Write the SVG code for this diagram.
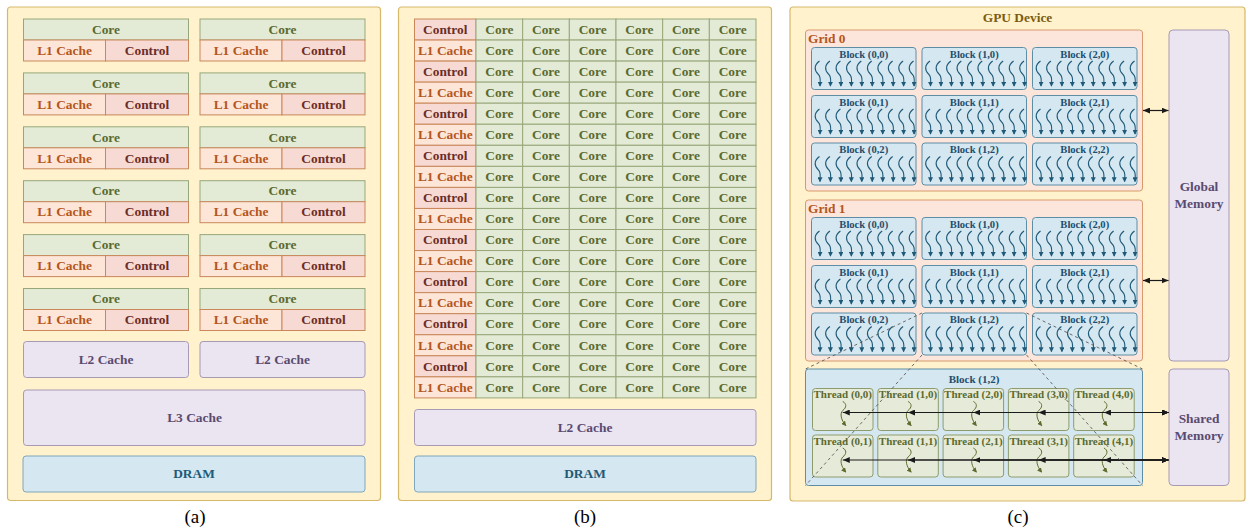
<svg xmlns="http://www.w3.org/2000/svg" xmlns:xlink="http://www.w3.org/1999/xlink" width="1251" height="531" viewBox="0 0 1251 531">
<style>
.panel{fill:#fff2cc;stroke:#d6b86a;stroke-width:1.2}
.core{fill:#e3ebd7;stroke:#98a77a;stroke-width:1}
.l1{fill:#fde5d8;stroke:#c9875a;stroke-width:1}
.ctl{fill:#f7dad4;stroke:#c9875a;stroke-width:1}
.mem{fill:#ebe4f1;stroke:#a69ab4;stroke-width:1}
.dram{fill:#d5e7f0;stroke:#7fa6bc;stroke-width:1}
.grid{fill:#fce5da;stroke:#d89a6c;stroke-width:1}
.blk{fill:#d5e7f0;stroke:#5e8ea6;stroke-width:1}
.thr{fill:#e6ebd9;stroke:#8e9b6c;stroke-width:1}
.t{font-family:"Liberation Serif","Times New Roman",serif;font-weight:bold;font-size:13.4px;text-anchor:middle}
.tc{fill:#5b6a2f}
.tl{fill:#b4561c}
.tt{fill:#6b2d28}
.tm{fill:#5a4a70}
.td{fill:#1f5a78}
.bt{font-family:"Liberation Serif","Times New Roman",serif;font-weight:bold;font-size:10.6px;text-anchor:middle;fill:#1e4e6e}
.tht{font-family:"Liberation Serif","Times New Roman",serif;font-weight:bold;font-size:11px;text-anchor:middle;fill:#5b6a2f}
.cap{font-family:"Liberation Serif","Times New Roman",serif;font-size:19px;text-anchor:middle;fill:#000}
.sqb{fill:none;stroke:#1f5a78;stroke-width:1.1}
.sqt{fill:none;stroke:#5e6b2e;stroke-width:1}
.conn{stroke:#1a1a1a;stroke-width:1.2;fill:none}
.dash{stroke:#5a5a5a;stroke-width:0.9;stroke-dasharray:3 3;fill:none}
</style>
<defs>
<marker id="mb" viewBox="0 0 6 6" refX="5" refY="3" markerWidth="5" markerHeight="5" orient="auto" markerUnits="userSpaceOnUse"><path d="M0,0 L6,3 L0,6 z" fill="#1f5a78"/></marker>
<marker id="mt" viewBox="0 0 6 6" refX="5" refY="3" markerWidth="5" markerHeight="5" orient="auto" markerUnits="userSpaceOnUse"><path d="M0,0 L6,3 L0,6 z" fill="#5e6b2e"/></marker>
<marker id="mk" viewBox="0 0 7 6" refX="7" refY="3" markerWidth="7" markerHeight="6" orient="auto-start-reverse" markerUnits="userSpaceOnUse"><path d="M0,0 L7,3 L0,6 z" fill="#1a1a1a"/></marker>
<path id="sq" d="M1.5,0 C-4,4 -4,9 0,13 C3.5,16 2,20 2,25" class="sqb" marker-end="url(#mb)"/>
<g id="sq10">
<use href="#sq" x="6.5" y="13.5"/><use href="#sq" x="16.95" y="13.5"/><use href="#sq" x="27.4" y="13.5"/><use href="#sq" x="37.85" y="13.5"/><use href="#sq" x="48.3" y="13.5"/><use href="#sq" x="58.75" y="13.5"/><use href="#sq" x="69.2" y="13.5"/><use href="#sq" x="79.65" y="13.5"/><use href="#sq" x="90.1" y="13.5"/><use href="#sq" x="100.55" y="13.5"/>
</g>
<path id="tsq" d="M0,0 C4,2 4,6 0,9 C-3,12 -2,18 3,24" class="sqt" marker-end="url(#mt)"/>
</defs>

<!-- ================= Panel (a) ================= -->
<g id="panel-a">
<rect class="panel" x="7.5" y="7" width="373" height="493.5" rx="3"/>
<g id="a-unit-0L" transform="translate(23.5,19)"><rect class="core" width="165" height="21"/><rect class="l1" y="21" width="82" height="21"/><rect class="ctl" x="82" y="21" width="83" height="21"/><text class="t tc" x="82.5" y="14.8">Core</text><text class="t tl" x="41" y="35.8">L1 Cache</text><text class="t tt" x="123.5" y="35.8">Control</text></g>
<g id="a-unit-0R" transform="translate(200,19)"><rect class="core" width="165" height="21"/><rect class="l1" y="21" width="82" height="21"/><rect class="ctl" x="82" y="21" width="83" height="21"/><text class="t tc" x="82.5" y="14.8">Core</text><text class="t tl" x="41" y="35.8">L1 Cache</text><text class="t tt" x="123.5" y="35.8">Control</text></g>
<g id="a-unit-1L" transform="translate(23.5,72.9)"><rect class="core" width="165" height="21"/><rect class="l1" y="21" width="82" height="21"/><rect class="ctl" x="82" y="21" width="83" height="21"/><text class="t tc" x="82.5" y="14.8">Core</text><text class="t tl" x="41" y="35.8">L1 Cache</text><text class="t tt" x="123.5" y="35.8">Control</text></g>
<g id="a-unit-1R" transform="translate(200,72.9)"><rect class="core" width="165" height="21"/><rect class="l1" y="21" width="82" height="21"/><rect class="ctl" x="82" y="21" width="83" height="21"/><text class="t tc" x="82.5" y="14.8">Core</text><text class="t tl" x="41" y="35.8">L1 Cache</text><text class="t tt" x="123.5" y="35.8">Control</text></g>
<g id="a-unit-2L" transform="translate(23.5,126.8)"><rect class="core" width="165" height="21"/><rect class="l1" y="21" width="82" height="21"/><rect class="ctl" x="82" y="21" width="83" height="21"/><text class="t tc" x="82.5" y="14.8">Core</text><text class="t tl" x="41" y="35.8">L1 Cache</text><text class="t tt" x="123.5" y="35.8">Control</text></g>
<g id="a-unit-2R" transform="translate(200,126.8)"><rect class="core" width="165" height="21"/><rect class="l1" y="21" width="82" height="21"/><rect class="ctl" x="82" y="21" width="83" height="21"/><text class="t tc" x="82.5" y="14.8">Core</text><text class="t tl" x="41" y="35.8">L1 Cache</text><text class="t tt" x="123.5" y="35.8">Control</text></g>
<g id="a-unit-3L" transform="translate(23.5,180.7)"><rect class="core" width="165" height="21"/><rect class="l1" y="21" width="82" height="21"/><rect class="ctl" x="82" y="21" width="83" height="21"/><text class="t tc" x="82.5" y="14.8">Core</text><text class="t tl" x="41" y="35.8">L1 Cache</text><text class="t tt" x="123.5" y="35.8">Control</text></g>
<g id="a-unit-3R" transform="translate(200,180.7)"><rect class="core" width="165" height="21"/><rect class="l1" y="21" width="82" height="21"/><rect class="ctl" x="82" y="21" width="83" height="21"/><text class="t tc" x="82.5" y="14.8">Core</text><text class="t tl" x="41" y="35.8">L1 Cache</text><text class="t tt" x="123.5" y="35.8">Control</text></g>
<g id="a-unit-4L" transform="translate(23.5,234.6)"><rect class="core" width="165" height="21"/><rect class="l1" y="21" width="82" height="21"/><rect class="ctl" x="82" y="21" width="83" height="21"/><text class="t tc" x="82.5" y="14.8">Core</text><text class="t tl" x="41" y="35.8">L1 Cache</text><text class="t tt" x="123.5" y="35.8">Control</text></g>
<g id="a-unit-4R" transform="translate(200,234.6)"><rect class="core" width="165" height="21"/><rect class="l1" y="21" width="82" height="21"/><rect class="ctl" x="82" y="21" width="83" height="21"/><text class="t tc" x="82.5" y="14.8">Core</text><text class="t tl" x="41" y="35.8">L1 Cache</text><text class="t tt" x="123.5" y="35.8">Control</text></g>
<g id="a-unit-5L" transform="translate(23.5,288.5)"><rect class="core" width="165" height="21"/><rect class="l1" y="21" width="82" height="21"/><rect class="ctl" x="82" y="21" width="83" height="21"/><text class="t tc" x="82.5" y="14.8">Core</text><text class="t tl" x="41" y="35.8">L1 Cache</text><text class="t tt" x="123.5" y="35.8">Control</text></g>
<g id="a-unit-5R" transform="translate(200,288.5)"><rect class="core" width="165" height="21"/><rect class="l1" y="21" width="82" height="21"/><rect class="ctl" x="82" y="21" width="83" height="21"/><text class="t tc" x="82.5" y="14.8">Core</text><text class="t tl" x="41" y="35.8">L1 Cache</text><text class="t tt" x="123.5" y="35.8">Control</text></g>
<g id="a-l2-L"><rect class="mem" x="23.5" y="341.5" width="165" height="36" rx="3"/><text class="t tm" x="106" y="364">L2 Cache</text></g>
<g id="a-l2-R"><rect class="mem" x="200" y="341.5" width="165" height="36" rx="3"/><text class="t tm" x="282.5" y="364">L2 Cache</text></g>
<g id="a-l3"><rect class="mem" x="23.5" y="390" width="341.5" height="55.5" rx="3"/><text class="t tm" x="194.5" y="422.3">L3 Cache</text></g>
<g id="a-dram"><rect class="dram" x="23" y="456" width="342" height="36" rx="3"/><text class="t td" x="194" y="478.3">DRAM</text></g>
<text class="cap" x="195" y="523">(a)</text>
</g>

<!-- ================= Panel (b) ================= -->
<g id="panel-b">
<rect class="panel" x="398.5" y="7" width="373" height="493.5" rx="3"/>
<g id="b-row-0" transform="translate(0,19)"><rect class="ctl" x="414.5" width="61.5" height="21.05"/><rect class="core" x="476" width="46.67" height="21.05"/><rect class="core" x="522.67" width="46.67" height="21.05"/><rect class="core" x="569.33" width="46.67" height="21.05"/><rect class="core" x="616" width="46.67" height="21.05"/><rect class="core" x="662.67" width="46.67" height="21.05"/><rect class="core" x="709.33" width="46.67" height="21.05"/><text class="t tt" x="445.25" y="14.8">Control</text><text class="t tc" x="499.33" y="14.8">Core</text><text class="t tc" x="546" y="14.8">Core</text><text class="t tc" x="592.67" y="14.8">Core</text><text class="t tc" x="639.33" y="14.8">Core</text><text class="t tc" x="686" y="14.8">Core</text><text class="t tc" x="732.67" y="14.8">Core</text></g>
<g id="b-row-1" transform="translate(0,40.05)"><rect class="l1" x="414.5" width="61.5" height="21.05"/><rect class="core" x="476" width="46.67" height="21.05"/><rect class="core" x="522.67" width="46.67" height="21.05"/><rect class="core" x="569.33" width="46.67" height="21.05"/><rect class="core" x="616" width="46.67" height="21.05"/><rect class="core" x="662.67" width="46.67" height="21.05"/><rect class="core" x="709.33" width="46.67" height="21.05"/><text class="t tl" x="445.25" y="14.8">L1 Cache</text><text class="t tc" x="499.33" y="14.8">Core</text><text class="t tc" x="546" y="14.8">Core</text><text class="t tc" x="592.67" y="14.8">Core</text><text class="t tc" x="639.33" y="14.8">Core</text><text class="t tc" x="686" y="14.8">Core</text><text class="t tc" x="732.67" y="14.8">Core</text></g>
<g id="b-row-2" transform="translate(0,61.1)"><rect class="ctl" x="414.5" width="61.5" height="21.05"/><rect class="core" x="476" width="46.67" height="21.05"/><rect class="core" x="522.67" width="46.67" height="21.05"/><rect class="core" x="569.33" width="46.67" height="21.05"/><rect class="core" x="616" width="46.67" height="21.05"/><rect class="core" x="662.67" width="46.67" height="21.05"/><rect class="core" x="709.33" width="46.67" height="21.05"/><text class="t tt" x="445.25" y="14.8">Control</text><text class="t tc" x="499.33" y="14.8">Core</text><text class="t tc" x="546" y="14.8">Core</text><text class="t tc" x="592.67" y="14.8">Core</text><text class="t tc" x="639.33" y="14.8">Core</text><text class="t tc" x="686" y="14.8">Core</text><text class="t tc" x="732.67" y="14.8">Core</text></g>
<g id="b-row-3" transform="translate(0,82.15)"><rect class="l1" x="414.5" width="61.5" height="21.05"/><rect class="core" x="476" width="46.67" height="21.05"/><rect class="core" x="522.67" width="46.67" height="21.05"/><rect class="core" x="569.33" width="46.67" height="21.05"/><rect class="core" x="616" width="46.67" height="21.05"/><rect class="core" x="662.67" width="46.67" height="21.05"/><rect class="core" x="709.33" width="46.67" height="21.05"/><text class="t tl" x="445.25" y="14.8">L1 Cache</text><text class="t tc" x="499.33" y="14.8">Core</text><text class="t tc" x="546" y="14.8">Core</text><text class="t tc" x="592.67" y="14.8">Core</text><text class="t tc" x="639.33" y="14.8">Core</text><text class="t tc" x="686" y="14.8">Core</text><text class="t tc" x="732.67" y="14.8">Core</text></g>
<g id="b-row-4" transform="translate(0,103.2)"><rect class="ctl" x="414.5" width="61.5" height="21.05"/><rect class="core" x="476" width="46.67" height="21.05"/><rect class="core" x="522.67" width="46.67" height="21.05"/><rect class="core" x="569.33" width="46.67" height="21.05"/><rect class="core" x="616" width="46.67" height="21.05"/><rect class="core" x="662.67" width="46.67" height="21.05"/><rect class="core" x="709.33" width="46.67" height="21.05"/><text class="t tt" x="445.25" y="14.8">Control</text><text class="t tc" x="499.33" y="14.8">Core</text><text class="t tc" x="546" y="14.8">Core</text><text class="t tc" x="592.67" y="14.8">Core</text><text class="t tc" x="639.33" y="14.8">Core</text><text class="t tc" x="686" y="14.8">Core</text><text class="t tc" x="732.67" y="14.8">Core</text></g>
<g id="b-row-5" transform="translate(0,124.25)"><rect class="l1" x="414.5" width="61.5" height="21.05"/><rect class="core" x="476" width="46.67" height="21.05"/><rect class="core" x="522.67" width="46.67" height="21.05"/><rect class="core" x="569.33" width="46.67" height="21.05"/><rect class="core" x="616" width="46.67" height="21.05"/><rect class="core" x="662.67" width="46.67" height="21.05"/><rect class="core" x="709.33" width="46.67" height="21.05"/><text class="t tl" x="445.25" y="14.8">L1 Cache</text><text class="t tc" x="499.33" y="14.8">Core</text><text class="t tc" x="546" y="14.8">Core</text><text class="t tc" x="592.67" y="14.8">Core</text><text class="t tc" x="639.33" y="14.8">Core</text><text class="t tc" x="686" y="14.8">Core</text><text class="t tc" x="732.67" y="14.8">Core</text></g>
<g id="b-row-6" transform="translate(0,145.3)"><rect class="ctl" x="414.5" width="61.5" height="21.05"/><rect class="core" x="476" width="46.67" height="21.05"/><rect class="core" x="522.67" width="46.67" height="21.05"/><rect class="core" x="569.33" width="46.67" height="21.05"/><rect class="core" x="616" width="46.67" height="21.05"/><rect class="core" x="662.67" width="46.67" height="21.05"/><rect class="core" x="709.33" width="46.67" height="21.05"/><text class="t tt" x="445.25" y="14.8">Control</text><text class="t tc" x="499.33" y="14.8">Core</text><text class="t tc" x="546" y="14.8">Core</text><text class="t tc" x="592.67" y="14.8">Core</text><text class="t tc" x="639.33" y="14.8">Core</text><text class="t tc" x="686" y="14.8">Core</text><text class="t tc" x="732.67" y="14.8">Core</text></g>
<g id="b-row-7" transform="translate(0,166.35)"><rect class="l1" x="414.5" width="61.5" height="21.05"/><rect class="core" x="476" width="46.67" height="21.05"/><rect class="core" x="522.67" width="46.67" height="21.05"/><rect class="core" x="569.33" width="46.67" height="21.05"/><rect class="core" x="616" width="46.67" height="21.05"/><rect class="core" x="662.67" width="46.67" height="21.05"/><rect class="core" x="709.33" width="46.67" height="21.05"/><text class="t tl" x="445.25" y="14.8">L1 Cache</text><text class="t tc" x="499.33" y="14.8">Core</text><text class="t tc" x="546" y="14.8">Core</text><text class="t tc" x="592.67" y="14.8">Core</text><text class="t tc" x="639.33" y="14.8">Core</text><text class="t tc" x="686" y="14.8">Core</text><text class="t tc" x="732.67" y="14.8">Core</text></g>
<g id="b-row-8" transform="translate(0,187.4)"><rect class="ctl" x="414.5" width="61.5" height="21.05"/><rect class="core" x="476" width="46.67" height="21.05"/><rect class="core" x="522.67" width="46.67" height="21.05"/><rect class="core" x="569.33" width="46.67" height="21.05"/><rect class="core" x="616" width="46.67" height="21.05"/><rect class="core" x="662.67" width="46.67" height="21.05"/><rect class="core" x="709.33" width="46.67" height="21.05"/><text class="t tt" x="445.25" y="14.8">Control</text><text class="t tc" x="499.33" y="14.8">Core</text><text class="t tc" x="546" y="14.8">Core</text><text class="t tc" x="592.67" y="14.8">Core</text><text class="t tc" x="639.33" y="14.8">Core</text><text class="t tc" x="686" y="14.8">Core</text><text class="t tc" x="732.67" y="14.8">Core</text></g>
<g id="b-row-9" transform="translate(0,208.45)"><rect class="l1" x="414.5" width="61.5" height="21.05"/><rect class="core" x="476" width="46.67" height="21.05"/><rect class="core" x="522.67" width="46.67" height="21.05"/><rect class="core" x="569.33" width="46.67" height="21.05"/><rect class="core" x="616" width="46.67" height="21.05"/><rect class="core" x="662.67" width="46.67" height="21.05"/><rect class="core" x="709.33" width="46.67" height="21.05"/><text class="t tl" x="445.25" y="14.8">L1 Cache</text><text class="t tc" x="499.33" y="14.8">Core</text><text class="t tc" x="546" y="14.8">Core</text><text class="t tc" x="592.67" y="14.8">Core</text><text class="t tc" x="639.33" y="14.8">Core</text><text class="t tc" x="686" y="14.8">Core</text><text class="t tc" x="732.67" y="14.8">Core</text></g>
<g id="b-row-10" transform="translate(0,229.5)"><rect class="ctl" x="414.5" width="61.5" height="21.05"/><rect class="core" x="476" width="46.67" height="21.05"/><rect class="core" x="522.67" width="46.67" height="21.05"/><rect class="core" x="569.33" width="46.67" height="21.05"/><rect class="core" x="616" width="46.67" height="21.05"/><rect class="core" x="662.67" width="46.67" height="21.05"/><rect class="core" x="709.33" width="46.67" height="21.05"/><text class="t tt" x="445.25" y="14.8">Control</text><text class="t tc" x="499.33" y="14.8">Core</text><text class="t tc" x="546" y="14.8">Core</text><text class="t tc" x="592.67" y="14.8">Core</text><text class="t tc" x="639.33" y="14.8">Core</text><text class="t tc" x="686" y="14.8">Core</text><text class="t tc" x="732.67" y="14.8">Core</text></g>
<g id="b-row-11" transform="translate(0,250.55)"><rect class="l1" x="414.5" width="61.5" height="21.05"/><rect class="core" x="476" width="46.67" height="21.05"/><rect class="core" x="522.67" width="46.67" height="21.05"/><rect class="core" x="569.33" width="46.67" height="21.05"/><rect class="core" x="616" width="46.67" height="21.05"/><rect class="core" x="662.67" width="46.67" height="21.05"/><rect class="core" x="709.33" width="46.67" height="21.05"/><text class="t tl" x="445.25" y="14.8">L1 Cache</text><text class="t tc" x="499.33" y="14.8">Core</text><text class="t tc" x="546" y="14.8">Core</text><text class="t tc" x="592.67" y="14.8">Core</text><text class="t tc" x="639.33" y="14.8">Core</text><text class="t tc" x="686" y="14.8">Core</text><text class="t tc" x="732.67" y="14.8">Core</text></g>
<g id="b-row-12" transform="translate(0,271.6)"><rect class="ctl" x="414.5" width="61.5" height="21.05"/><rect class="core" x="476" width="46.67" height="21.05"/><rect class="core" x="522.67" width="46.67" height="21.05"/><rect class="core" x="569.33" width="46.67" height="21.05"/><rect class="core" x="616" width="46.67" height="21.05"/><rect class="core" x="662.67" width="46.67" height="21.05"/><rect class="core" x="709.33" width="46.67" height="21.05"/><text class="t tt" x="445.25" y="14.8">Control</text><text class="t tc" x="499.33" y="14.8">Core</text><text class="t tc" x="546" y="14.8">Core</text><text class="t tc" x="592.67" y="14.8">Core</text><text class="t tc" x="639.33" y="14.8">Core</text><text class="t tc" x="686" y="14.8">Core</text><text class="t tc" x="732.67" y="14.8">Core</text></g>
<g id="b-row-13" transform="translate(0,292.65)"><rect class="l1" x="414.5" width="61.5" height="21.05"/><rect class="core" x="476" width="46.67" height="21.05"/><rect class="core" x="522.67" width="46.67" height="21.05"/><rect class="core" x="569.33" width="46.67" height="21.05"/><rect class="core" x="616" width="46.67" height="21.05"/><rect class="core" x="662.67" width="46.67" height="21.05"/><rect class="core" x="709.33" width="46.67" height="21.05"/><text class="t tl" x="445.25" y="14.8">L1 Cache</text><text class="t tc" x="499.33" y="14.8">Core</text><text class="t tc" x="546" y="14.8">Core</text><text class="t tc" x="592.67" y="14.8">Core</text><text class="t tc" x="639.33" y="14.8">Core</text><text class="t tc" x="686" y="14.8">Core</text><text class="t tc" x="732.67" y="14.8">Core</text></g>
<g id="b-row-14" transform="translate(0,313.7)"><rect class="ctl" x="414.5" width="61.5" height="21.05"/><rect class="core" x="476" width="46.67" height="21.05"/><rect class="core" x="522.67" width="46.67" height="21.05"/><rect class="core" x="569.33" width="46.67" height="21.05"/><rect class="core" x="616" width="46.67" height="21.05"/><rect class="core" x="662.67" width="46.67" height="21.05"/><rect class="core" x="709.33" width="46.67" height="21.05"/><text class="t tt" x="445.25" y="14.8">Control</text><text class="t tc" x="499.33" y="14.8">Core</text><text class="t tc" x="546" y="14.8">Core</text><text class="t tc" x="592.67" y="14.8">Core</text><text class="t tc" x="639.33" y="14.8">Core</text><text class="t tc" x="686" y="14.8">Core</text><text class="t tc" x="732.67" y="14.8">Core</text></g>
<g id="b-row-15" transform="translate(0,334.75)"><rect class="l1" x="414.5" width="61.5" height="21.05"/><rect class="core" x="476" width="46.67" height="21.05"/><rect class="core" x="522.67" width="46.67" height="21.05"/><rect class="core" x="569.33" width="46.67" height="21.05"/><rect class="core" x="616" width="46.67" height="21.05"/><rect class="core" x="662.67" width="46.67" height="21.05"/><rect class="core" x="709.33" width="46.67" height="21.05"/><text class="t tl" x="445.25" y="14.8">L1 Cache</text><text class="t tc" x="499.33" y="14.8">Core</text><text class="t tc" x="546" y="14.8">Core</text><text class="t tc" x="592.67" y="14.8">Core</text><text class="t tc" x="639.33" y="14.8">Core</text><text class="t tc" x="686" y="14.8">Core</text><text class="t tc" x="732.67" y="14.8">Core</text></g>
<g id="b-row-16" transform="translate(0,355.8)"><rect class="ctl" x="414.5" width="61.5" height="21.05"/><rect class="core" x="476" width="46.67" height="21.05"/><rect class="core" x="522.67" width="46.67" height="21.05"/><rect class="core" x="569.33" width="46.67" height="21.05"/><rect class="core" x="616" width="46.67" height="21.05"/><rect class="core" x="662.67" width="46.67" height="21.05"/><rect class="core" x="709.33" width="46.67" height="21.05"/><text class="t tt" x="445.25" y="14.8">Control</text><text class="t tc" x="499.33" y="14.8">Core</text><text class="t tc" x="546" y="14.8">Core</text><text class="t tc" x="592.67" y="14.8">Core</text><text class="t tc" x="639.33" y="14.8">Core</text><text class="t tc" x="686" y="14.8">Core</text><text class="t tc" x="732.67" y="14.8">Core</text></g>
<g id="b-row-17" transform="translate(0,376.85)"><rect class="l1" x="414.5" width="61.5" height="21.05"/><rect class="core" x="476" width="46.67" height="21.05"/><rect class="core" x="522.67" width="46.67" height="21.05"/><rect class="core" x="569.33" width="46.67" height="21.05"/><rect class="core" x="616" width="46.67" height="21.05"/><rect class="core" x="662.67" width="46.67" height="21.05"/><rect class="core" x="709.33" width="46.67" height="21.05"/><text class="t tl" x="445.25" y="14.8">L1 Cache</text><text class="t tc" x="499.33" y="14.8">Core</text><text class="t tc" x="546" y="14.8">Core</text><text class="t tc" x="592.67" y="14.8">Core</text><text class="t tc" x="639.33" y="14.8">Core</text><text class="t tc" x="686" y="14.8">Core</text><text class="t tc" x="732.67" y="14.8">Core</text></g>
<g id="b-l2"><rect class="mem" x="414.5" y="409.5" width="341.5" height="36" rx="3"/><text class="t tm" x="585" y="431.8">L2 Cache</text></g>
<g id="b-dram"><rect class="dram" x="414.5" y="456" width="341.5" height="36" rx="3"/><text class="t td" x="585" y="478.3">DRAM</text></g>
<text class="cap" x="585" y="523">(b)</text>
</g>

<!-- ================= Panel (c) ================= -->
<g id="panel-c">
<rect class="panel" x="790" y="7" width="455" height="494" rx="3"/>
<text class="t" x="1017.5" y="21.5" fill="#7a5c10">GPU Device</text>

<g id="grid0">
<rect class="grid" x="805.5" y="30" width="337" height="161" rx="3"/>
<text class="t tl" x="808" y="43" style="text-anchor:start">Grid 0</text>
</g>
<g id="g0-b00"><rect class="blk" x="811.5" y="47.5" width="104.5" height="42" rx="3"/><text class="bt" x="863.75" y="57.5">Block (0,0)</text><use href="#sq10" x="811.5" y="47.5"/></g>
<g id="g0-b10"><rect class="blk" x="922" y="47.5" width="104.5" height="42" rx="3"/><text class="bt" x="974.25" y="57.5">Block (1,0)</text><use href="#sq10" x="922" y="47.5"/></g>
<g id="g0-b20"><rect class="blk" x="1032.5" y="47.5" width="104.5" height="42" rx="3"/><text class="bt" x="1084.75" y="57.5">Block (2,0)</text><use href="#sq10" x="1032.5" y="47.5"/></g>
<g id="g0-b01"><rect class="blk" x="811.5" y="95.5" width="104.5" height="42" rx="3"/><text class="bt" x="863.75" y="105.5">Block (0,1)</text><use href="#sq10" x="811.5" y="95.5"/></g>
<g id="g0-b11"><rect class="blk" x="922" y="95.5" width="104.5" height="42" rx="3"/><text class="bt" x="974.25" y="105.5">Block (1,1)</text><use href="#sq10" x="922" y="95.5"/></g>
<g id="g0-b21"><rect class="blk" x="1032.5" y="95.5" width="104.5" height="42" rx="3"/><text class="bt" x="1084.75" y="105.5">Block (2,1)</text><use href="#sq10" x="1032.5" y="95.5"/></g>
<g id="g0-b02"><rect class="blk" x="811.5" y="143" width="104.5" height="42" rx="3"/><text class="bt" x="863.75" y="153">Block (0,2)</text><use href="#sq10" x="811.5" y="143"/></g>
<g id="g0-b12"><rect class="blk" x="922" y="143" width="104.5" height="42" rx="3"/><text class="bt" x="974.25" y="153">Block (1,2)</text><use href="#sq10" x="922" y="143"/></g>
<g id="g0-b22"><rect class="blk" x="1032.5" y="143" width="104.5" height="42" rx="3"/><text class="bt" x="1084.75" y="153">Block (2,2)</text><use href="#sq10" x="1032.5" y="143"/></g>

<g id="grid1">
<rect class="grid" x="805.5" y="200" width="337" height="161" rx="3"/>
<text class="t tl" x="808" y="213" style="text-anchor:start">Grid 1</text>
</g>
<g id="g1-b00"><rect class="blk" x="811.5" y="217.5" width="104.5" height="42" rx="3"/><text class="bt" x="863.75" y="227.5">Block (0,0)</text><use href="#sq10" x="811.5" y="217.5"/></g>
<g id="g1-b10"><rect class="blk" x="922" y="217.5" width="104.5" height="42" rx="3"/><text class="bt" x="974.25" y="227.5">Block (1,0)</text><use href="#sq10" x="922" y="217.5"/></g>
<g id="g1-b20"><rect class="blk" x="1032.5" y="217.5" width="104.5" height="42" rx="3"/><text class="bt" x="1084.75" y="227.5">Block (2,0)</text><use href="#sq10" x="1032.5" y="217.5"/></g>
<g id="g1-b01"><rect class="blk" x="811.5" y="265.5" width="104.5" height="42" rx="3"/><text class="bt" x="863.75" y="275.5">Block (0,1)</text><use href="#sq10" x="811.5" y="265.5"/></g>
<g id="g1-b11"><rect class="blk" x="922" y="265.5" width="104.5" height="42" rx="3"/><text class="bt" x="974.25" y="275.5">Block (1,1)</text><use href="#sq10" x="922" y="265.5"/></g>
<g id="g1-b21"><rect class="blk" x="1032.5" y="265.5" width="104.5" height="42" rx="3"/><text class="bt" x="1084.75" y="275.5">Block (2,1)</text><use href="#sq10" x="1032.5" y="265.5"/></g>
<g id="g1-b02"><rect class="blk" x="811.5" y="313" width="104.5" height="42" rx="3"/><text class="bt" x="863.75" y="323">Block (0,2)</text><use href="#sq10" x="811.5" y="313"/></g>
<g id="g1-b12"><rect class="blk" x="922" y="313" width="104.5" height="42" rx="3"/><text class="bt" x="974.25" y="323">Block (1,2)</text><use href="#sq10" x="922" y="313"/></g>
<g id="g1-b22"><rect class="blk" x="1032.5" y="313" width="104.5" height="42" rx="3"/><text class="bt" x="1084.75" y="323">Block (2,2)</text><use href="#sq10" x="1032.5" y="313"/></g>

<g id="global-mem"><rect class="mem" x="1169" y="30" width="60" height="331" rx="4"/><text class="t tm" x="1199" y="191">Global</text><text class="t tm" x="1199" y="207.6">Memory</text></g>
<g id="shared-mem"><rect class="mem" x="1169" y="369" width="60" height="116.5" rx="4"/><text class="t tm" x="1199" y="423.3">Shared</text><text class="t tm" x="1199" y="440">Memory</text></g>

<g id="block12-detail">
<rect class="blk" x="805.5" y="369" width="337" height="116.5" rx="3"/>
<text class="bt" x="974" y="382.5" style="font-size:11px">Block (1,2)</text>
</g>
<g id="t00"><rect class="thr" x="812.5" y="388.5" width="60.5" height="42" rx="3"/><text class="tht" x="842.75" y="398.3">Thread (0,0)</text><use href="#tsq" x="842.75" y="401.5"/></g>
<g id="t10"><rect class="thr" x="877.8" y="388.5" width="60.5" height="42" rx="3"/><text class="tht" x="908.05" y="398.3">Thread (1,0)</text><use href="#tsq" x="908.05" y="401.5"/></g>
<g id="t20"><rect class="thr" x="943.1" y="388.5" width="60.5" height="42" rx="3"/><text class="tht" x="973.35" y="398.3">Thread (2,0)</text><use href="#tsq" x="973.35" y="401.5"/></g>
<g id="t30"><rect class="thr" x="1008.4" y="388.5" width="60.5" height="42" rx="3"/><text class="tht" x="1038.65" y="398.3">Thread (3,0)</text><use href="#tsq" x="1038.65" y="401.5"/></g>
<g id="t40"><rect class="thr" x="1073.7" y="388.5" width="60.5" height="42" rx="3"/><text class="tht" x="1103.95" y="398.3">Thread (4,0)</text><use href="#tsq" x="1103.95" y="401.5"/></g>
<g id="t01"><rect class="thr" x="812.5" y="435" width="60.5" height="42" rx="3"/><text class="tht" x="842.75" y="444.8">Thread (0,1)</text><use href="#tsq" x="842.75" y="448"/></g>
<g id="t11"><rect class="thr" x="877.8" y="435" width="60.5" height="42" rx="3"/><text class="tht" x="908.05" y="444.8">Thread (1,1)</text><use href="#tsq" x="908.05" y="448"/></g>
<g id="t21"><rect class="thr" x="943.1" y="435" width="60.5" height="42" rx="3"/><text class="tht" x="973.35" y="444.8">Thread (2,1)</text><use href="#tsq" x="973.35" y="448"/></g>
<g id="t31"><rect class="thr" x="1008.4" y="435" width="60.5" height="42" rx="3"/><text class="tht" x="1038.65" y="444.8">Thread (3,1)</text><use href="#tsq" x="1038.65" y="448"/></g>
<g id="t41"><rect class="thr" x="1073.7" y="435" width="60.5" height="42" rx="3"/><text class="tht" x="1103.95" y="444.8">Thread (4,1)</text><use href="#tsq" x="1103.95" y="448"/></g>

<text class="cap" x="1018" y="523">(c)</text>
</g>

<!-- ================= Connectors ================= -->
<g id="connectors">
<line class="conn" x1="1143" y1="110.5" x2="1168.5" y2="110.5" marker-start="url(#mk)" marker-end="url(#mk)"/>
<line class="conn" x1="1143" y1="280.5" x2="1168.5" y2="280.5" marker-start="url(#mk)" marker-end="url(#mk)"/>
<line class="conn" x1="842.75" y1="412.5" x2="1168.5" y2="412.5" marker-start="url(#mk)" marker-end="url(#mk)"/>
<line class="conn" x1="908.05" y1="412.5" x2="1168.5" y2="412.5" marker-start="url(#mk)" marker-end="url(#mk)"/>
<line class="conn" x1="973.35" y1="412.5" x2="1168.5" y2="412.5" marker-start="url(#mk)" marker-end="url(#mk)"/>
<line class="conn" x1="1038.65" y1="412.5" x2="1168.5" y2="412.5" marker-start="url(#mk)" marker-end="url(#mk)"/>
<line class="conn" x1="1103.95" y1="412.5" x2="1168.5" y2="412.5" marker-start="url(#mk)" marker-end="url(#mk)"/>
<line class="conn" x1="842.75" y1="460" x2="1168.5" y2="460" marker-start="url(#mk)" marker-end="url(#mk)"/>
<line class="conn" x1="908.05" y1="460" x2="1168.5" y2="460" marker-start="url(#mk)" marker-end="url(#mk)"/>
<line class="conn" x1="973.35" y1="460" x2="1168.5" y2="460" marker-start="url(#mk)" marker-end="url(#mk)"/>
<line class="conn" x1="1038.65" y1="460" x2="1168.5" y2="460" marker-start="url(#mk)" marker-end="url(#mk)"/>
<line class="conn" x1="1103.95" y1="460" x2="1168.5" y2="460" marker-start="url(#mk)" marker-end="url(#mk)"/>
<line class="dash" x1="922" y1="313" x2="805.5" y2="369"/>
<line class="dash" x1="922" y1="355" x2="805.5" y2="485.5"/>
<line class="dash" x1="1026.5" y1="313" x2="1142.5" y2="369"/>
<line class="dash" x1="1026.5" y1="355" x2="1142.5" y2="485.5"/>
</g>
</svg>
